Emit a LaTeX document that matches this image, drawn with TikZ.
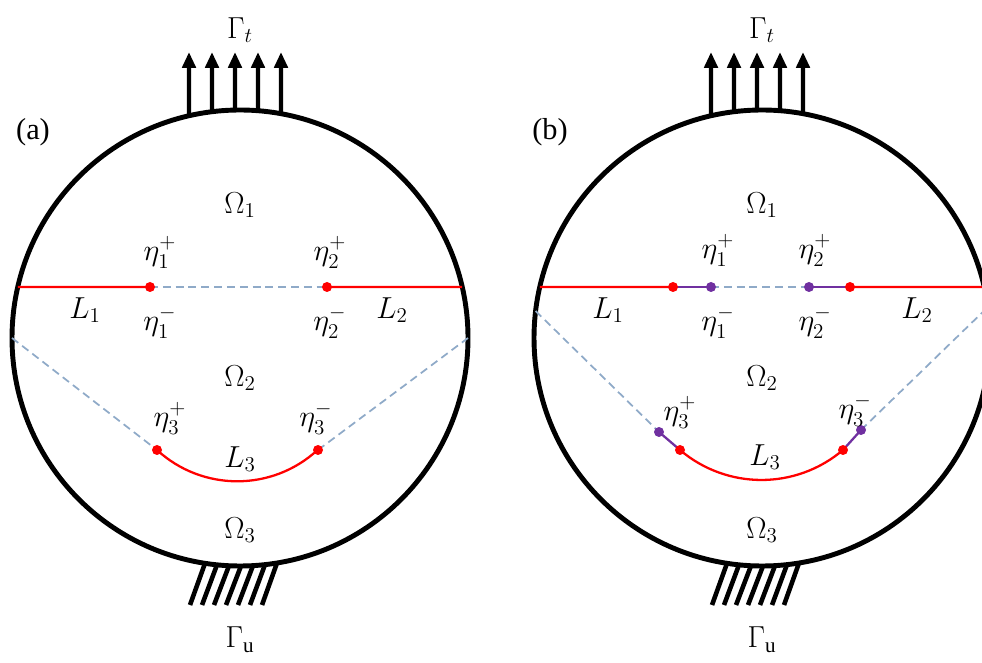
\documentclass[tikz,border=0pt]{standalone}
\usepackage{amsmath}
\usepackage{fontspec}
\setmainfont{Liberation Serif}
\usetikzlibrary{arrows.meta,calc}
\definecolor{RojoGrieta}{RGB}{255,0,0}
\definecolor{VioletaZona}{RGB}{112,48,160}
\definecolor{AzulTenue}{RGB}{143,170,200}

\begin{document}
\begin{tikzpicture}[x=0.02cm,y=0.02cm,>={Triangle[width=7.5pt,length=9pt]},font=\LARGE,
  borde/.style={line width=2.8pt},
  carga/.style={->,line width=2.5pt},
  empotre/.style={line width=2.6pt},
  grieta/.style={line width=1.3pt,RojoGrieta},
  ligamento/.style={line width=1.3pt,VioletaZona},
  virtual/.style={line width=1pt,AzulTenue,dash pattern=on 4.5pt off 2.8pt}]
  \clip (0,0) rectangle (982,662);

  \coordinate (Oa) at (240,324);
  \coordinate (Ob) at (762,324);

  % cargas, empotramiento y contorno
  \foreach \O in {Oa,Ob} {
    \foreach \dx in {-51,-28,-5,18,41}
      \draw[carga] ($(\O)+({90-asin(\dx/228)}:228)$) -- ($(\O)+(\dx,286)$);
    \foreach \dx in {-35,-23,-11,1,13,25,37}
      \draw[empotre] ($(\O)+({270+asin(\dx/228)}:228)$) -- ($(\O)+(\dx-15,-267)$);
    \draw[borde] (\O) circle (228);
  }

  % (a)
  \coordinate (Ia) at ($(Oa)+(167.1:228)$);
  \coordinate (Da) at ($(Oa)+(12.9:228)$);
  \coordinate (E1a) at (150,375);
  \coordinate (E2a) at (327,375);
  \coordinate (E3pa) at (157,212);
  \coordinate (E3ma) at (318,212);
  \draw[virtual] ($(Oa)+(180:228)$) -- (E3pa);
  \draw[virtual] (E3ma) -- ($(Oa)+(0:228)$);
  \draw[virtual] (E1a) -- (E2a);
  \draw[grieta] (Ia) -- (E1a);
  \draw[grieta] (E2a) -- (Da);
  \draw[grieta] (E3pa) arc[start angle=227.4,end angle=312.6,radius=118.6];
  \foreach \p in {E1a,E2a,E3pa,E3ma} \fill[RojoGrieta] (\p) circle (5);

  \node (Gta) at (240,632) {$\Gamma_t$};
  \node (Gua) at (240,22) {$\Gamma_{\mathrm{u}}$};
  \node (ra) at (33,530) {(a)};
  \node (W1a) at (240,457) {$\Omega_1$};
  \node (W2a) at (240,284) {$\Omega_2$};
  \node (W3a) at (240,132) {$\Omega_3$};
  \node (L1a) at (85,352) {$L_1$};
  \node (L2a) at (392,352) {$L_2$};
  \node (L3a) at (240,203) {$L_3$};
  \node (e1pa) at (160,410) {$\eta_1^+$};
  \node (e1ma) at (160,340) {$\eta_1^-$};
  \node (e2pa) at (330,410) {$\eta_2^+$};
  \node (e2ma) at (330,340) {$\eta_2^-$};
  \node (e3pa) at (170,244) {$\eta_3^+$};
  \node (e3ma) at (316,244) {$\eta_3^-$};

  % (b)
  \coordinate (Ib) at ($(Ob)+(167.1:228)$);
  \coordinate (Db) at ($(Ob)+(12.9:228)$);
  \coordinate (R1b) at (673,375);
  \coordinate (P1b) at (711,375);
  \coordinate (P2b) at (809,375);
  \coordinate (R2b) at (850,375);
  \coordinate (P3pb) at (659,230);
  \coordinate (R3pb) at (680,212);
  \coordinate (R3mb) at (843,212);
  \coordinate (P3mb) at (861,232);
  \draw[virtual] ($(Ob)+(173.2:228)$) -- (P3pb);
  \draw[virtual] (P3mb) -- ($(Ob)+(7.8:228)$);
  \draw[virtual] (P1b) -- (P2b);
  \draw[grieta] (Ib) -- (R1b);
  \draw[grieta] (R2b) -- (Db);
  \draw[grieta] (R3pb) arc[start angle=229.6,end angle=310.4,radius=125.7];
  \draw[ligamento] (R1b) -- (P1b);
  \draw[ligamento] (P2b) -- (R2b);
  \draw[ligamento] (P3pb) -- (R3pb);
  \draw[ligamento] (R3mb) -- (P3mb);
  \foreach \p in {R1b,R2b,R3pb,R3mb} \fill[RojoGrieta] (\p) circle (5);
  \foreach \p in {P1b,P2b,P3pb,P3mb} \fill[VioletaZona] (\p) circle (5);

  \node (Gtb) at (762,632) {$\Gamma_t$};
  \node (Gub) at (762,22) {$\Gamma_{\mathrm{u}}$};
  \node (rb) at (550,530) {(b)};
  \node (W1b) at (762,457) {$\Omega_1$};
  \node (W2b) at (762,284) {$\Omega_2$};
  \node (W3b) at (762,132) {$\Omega_3$};
  \node (L1b) at (608,352) {$L_1$};
  \node (L2b) at (917,352) {$L_2$};
  \node (L3b) at (765,205) {$L_3$};
  \node (e1pb) at (718,412) {$\eta_1^+$};
  \node (e1mb) at (718,340) {$\eta_1^-$};
  \node (e2pb) at (815,412) {$\eta_2^+$};
  \node (e2mb) at (815,340) {$\eta_2^-$};
  \node (e3pb) at (680,250) {$\eta_3^+$};
  \node (e3mb) at (855,252) {$\eta_3^-$};
\end{tikzpicture}
\end{document}
